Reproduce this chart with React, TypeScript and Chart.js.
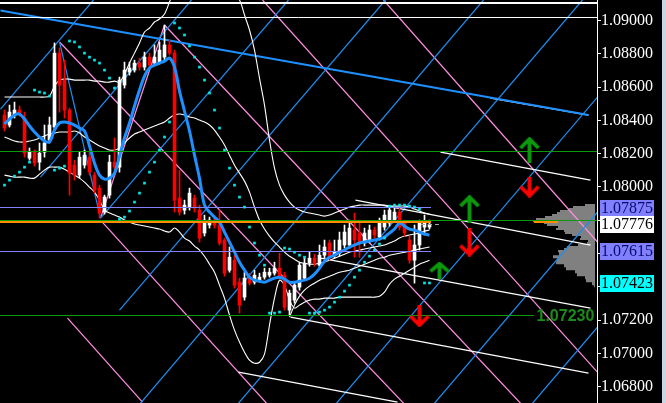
import React, { useEffect, useRef } from 'react';
import { Chart, registerables } from 'chart.js';

Chart.register(...registerables);

// ---------- candle data ----------
const openP = [
  1.08432, 1.08372, 1.08432, 1.08462, 1.08414, 1.08173, 1.08209, 1.08149, 1.08209, 1.08282,
  1.08360, 1.08804, 1.08642, 1.08462, 1.08131, 1.08071, 1.08131, 1.08179, 1.08071, 1.07993,
  1.07849, 1.07951, 1.08149, 1.08119, 1.08612, 1.08690, 1.08702, 1.08744, 1.08720, 1.08780,
  1.08744, 1.08750, 1.08780, 1.08853, 1.08804, 1.07933, 1.07861, 1.07879, 1.07933, 1.07861,
  1.07723, 1.07771, 1.07801, 1.07771, 1.07681, 1.07500, 1.07560, 1.07428, 1.07338, 1.07452,
  1.07428, 1.07440, 1.07458, 1.07470, 1.07482, 1.07512, 1.07470, 1.07260, 1.07320, 1.07398,
  1.07452, 1.07542, 1.07572, 1.07530, 1.07590, 1.07663, 1.07590, 1.07602, 1.07651, 1.07651,
  1.07741, 1.07723, 1.07663, 1.07681, 1.07741, 1.07699, 1.07759, 1.07783, 1.07801, 1.07849,
  1.07789, 1.07681, 1.07560, 1.07651, 1.07759, 1.07759,
];
const highP = [
  1.08462, 1.08492, 1.08510, 1.08486, 1.08450, 1.08234, 1.08222, 1.08264, 1.08372, 1.08420,
  1.08865, 1.08835, 1.08762, 1.08474, 1.08161, 1.08209, 1.08222, 1.08209, 1.08089, 1.08011,
  1.07951, 1.08191, 1.08294, 1.08660, 1.08750, 1.08750, 1.08762, 1.08774, 1.08810, 1.08804,
  1.08853, 1.08871, 1.08973, 1.08883, 1.08822, 1.08101, 1.07921, 1.07993, 1.07951, 1.07891,
  1.07831, 1.07819, 1.07819, 1.07861, 1.07693, 1.07639, 1.07590, 1.07452, 1.07488, 1.07482,
  1.07500, 1.07482, 1.07512, 1.07512, 1.07548, 1.07602, 1.07488, 1.07380, 1.07428, 1.07548,
  1.07572, 1.07608, 1.07596, 1.07651, 1.07681, 1.07681, 1.07681, 1.07729, 1.07771, 1.07801,
  1.07843, 1.07801, 1.07753, 1.07771, 1.07759, 1.07813, 1.07861, 1.07879, 1.07873, 1.07873,
  1.07801, 1.07705, 1.07771, 1.07801, 1.07831, 1.07801,
];
const lowP = [
  1.08336, 1.08360, 1.08414, 1.08426, 1.08179, 1.08161, 1.08125, 1.08101, 1.08179, 1.08264,
  1.08342, 1.08450, 1.08414, 1.07951, 1.08041, 1.08053, 1.08113, 1.08071, 1.07963, 1.07813,
  1.07837, 1.07933, 1.08101, 1.08089, 1.08594, 1.08672, 1.08690, 1.08702, 1.08702, 1.08720,
  1.08732, 1.08738, 1.08762, 1.08792, 1.07849, 1.07831, 1.07837, 1.07861, 1.07849, 1.07669,
  1.07705, 1.07753, 1.07753, 1.07651, 1.07464, 1.07488, 1.07392, 1.07242, 1.07320, 1.07410,
  1.07416, 1.07428, 1.07446, 1.07458, 1.07470, 1.07446, 1.07260, 1.07230, 1.07302, 1.07380,
  1.07440, 1.07524, 1.07524, 1.07512, 1.07572, 1.07560, 1.07572, 1.07584, 1.07633, 1.07633,
  1.07578, 1.07578, 1.07645, 1.07663, 1.07693, 1.07681, 1.07741, 1.07765, 1.07789, 1.07741,
  1.07705, 1.07542, 1.07422, 1.07621, 1.07711, 1.07747,
];
const closeP = [
  1.08354, 1.08450, 1.08462, 1.08438, 1.08203, 1.08209, 1.08143, 1.08203, 1.08264, 1.08372,
  1.08804, 1.08612, 1.08462, 1.08083, 1.08071, 1.08179, 1.08191, 1.08089, 1.07981, 1.07843,
  1.07939, 1.08149, 1.08119, 1.08642, 1.08702, 1.08714, 1.08744, 1.08720, 1.08780, 1.08732,
  1.08780, 1.08822, 1.08853, 1.08804, 1.07921, 1.07849, 1.07891, 1.07963, 1.07873, 1.07693,
  1.07801, 1.07801, 1.07771, 1.07663, 1.07482, 1.07578, 1.07410, 1.07290, 1.07452, 1.07422,
  1.07470, 1.07458, 1.07488, 1.07488, 1.07512, 1.07458, 1.07278, 1.07362, 1.07410, 1.07530,
  1.07542, 1.07572, 1.07542, 1.07590, 1.07639, 1.07578, 1.07608, 1.07681, 1.07729, 1.07753,
  1.07681, 1.07663, 1.07723, 1.07741, 1.07711, 1.07783, 1.07831, 1.07861, 1.07849, 1.07759,
  1.07723, 1.07560, 1.07651, 1.07783, 1.07789, 1.07776,
];

// ---------- indicators ----------
const maLine = [
  1.08378, 1.08408, 1.08432, 1.08438, 1.08408, 1.08366, 1.08330, 1.08300, 1.08276, 1.08270,
  1.08342, 1.08384, 1.08390, 1.08384, 1.08372, 1.08354, 1.08336, 1.08246, 1.08143, 1.08071,
  1.08047, 1.08053, 1.08083, 1.08185, 1.08294, 1.08384, 1.08486, 1.08582, 1.08666, 1.08714,
  1.08732, 1.08744, 1.08756, 1.08774, 1.08720, 1.08576, 1.08456, 1.08336, 1.08191, 1.08053,
  1.07891, 1.07849, 1.07819, 1.07789, 1.07729, 1.07669, 1.07608, 1.07548, 1.07500, 1.07458,
  1.07440, 1.07434, 1.07428, 1.07440, 1.07452, 1.07458, 1.07446, 1.07428, 1.07428, 1.07434,
  1.07440, 1.07452, 1.07476, 1.07512, 1.07554, 1.07578, 1.07590, 1.07608, 1.07621, 1.07639,
  1.07651, 1.07663, 1.07669, 1.07675, 1.07681, 1.07687, 1.07699, 1.07723, 1.07747, 1.07783,
  1.07765, 1.07747, 1.07741, 1.07729, 1.07717, 1.07711,
];
const sarDots = [
  1.08011, 1.08041, 1.08065, 1.08089, 1.08119, 1.08149, 1.08582, 1.08570, 1.08564, 1.08546,
  1.08101, 1.08113, 1.08125, 1.08877, 1.08871, 1.08841, 1.08804, 1.08780, 1.08762, 1.08744,
  1.08702, 1.08654, 1.08594, 1.07807, 1.07819, 1.07855, 1.07909, 1.07963, 1.08023, 1.08089,
  1.08149, 1.08222, 1.08300, 1.08390, 1.08985, 1.08955, 1.08913, 1.08847, 1.08780, 1.08720,
  1.08642, 1.08564, 1.08462, 1.08354, 1.08222, 1.08113, 1.08011, 1.07939, 1.07879, 1.07759,
  1.07663, 1.07590, 1.07530, 1.07242, 1.07242, 1.07248, 1.07633, 1.07627, 1.07608, 1.07590,
  1.07578, 1.07242, 1.07242, 1.07248, 1.07260, 1.07278, 1.07308, 1.07338, 1.07374, 1.07410,
  1.07458, 1.07500, 1.07548, 1.07584, 1.07621, 1.07657, 1.07693, 1.07885, 1.07891, 1.07891,
  1.07891, 1.07885, 1.07879, 1.07867, 1.07423, 1.07423,
];
const bbUpper = [
  1.08540, 1.08540, 1.08540, 1.08540, 1.08540, 1.08540, 1.08540, 1.08540, 1.08540, 1.08546,
  1.08606, 1.08642, 1.08648, 1.08648, 1.08642, 1.08642, 1.08642, 1.08642, 1.08636, 1.08636,
  1.08630, 1.08630, 1.08636, 1.08630, 1.08678, 1.08744, 1.08804, 1.08865, 1.08931, 1.08955,
  1.08991, 1.09009, 1.09039, 1.09111, 1.09183, 1.09243, 1.09267, 1.09279, 1.09279, 1.09267,
  1.09243, 1.09213, 1.09183, 1.09159, 1.09147, 1.09141, 1.09135, 1.09123, 1.09033, 1.08943,
  1.08822, 1.08654, 1.08492, 1.08282, 1.08113, 1.08011, 1.07951, 1.07909, 1.07879, 1.07861,
  1.07849, 1.07843, 1.07837, 1.07831, 1.07825, 1.07831, 1.07843, 1.07855, 1.07867, 1.07879,
  1.07885, 1.07891, 1.07891, 1.07891, 1.07891, 1.07891, 1.07891, 1.07885, 1.07885, 1.07885,
  1.07885, 1.07879, 1.07867, 1.07855, 1.07843, 1.07837,
];
const bbMiddle = [
  1.08300, 1.08288, 1.08276, 1.08270, 1.08270, 1.08276, 1.08282, 1.08294, 1.08306, 1.08318,
  1.08324, 1.08330, 1.08330, 1.08330, 1.08336, 1.08324, 1.08300, 1.08282, 1.08264, 1.08246,
  1.08234, 1.08222, 1.08222, 1.08234, 1.08264, 1.08294, 1.08318, 1.08330, 1.08342, 1.08354,
  1.08366, 1.08378, 1.08390, 1.08414, 1.08432, 1.08438, 1.08432, 1.08420, 1.08414, 1.08402,
  1.08390, 1.08372, 1.08342, 1.08300, 1.08252, 1.08191, 1.08131, 1.08083, 1.08035, 1.07969,
  1.07879, 1.07801, 1.07747, 1.07705, 1.07669, 1.07639, 1.07608, 1.07584, 1.07566, 1.07548,
  1.07542, 1.07536, 1.07536, 1.07542, 1.07548, 1.07560, 1.07572, 1.07584, 1.07596, 1.07608,
  1.07614, 1.07621, 1.07627, 1.07633, 1.07639, 1.07645, 1.07651, 1.07663, 1.07675, 1.07693,
  1.07705, 1.07711, 1.07717, 1.07723, 1.07735, 1.07741,
];
const bbLower = [
  1.08071, 1.08065, 1.08059, 1.08059, 1.08059, 1.08053, 1.08053, 1.08077, 1.08101, 1.08119,
  1.08119, 1.08119, 1.08107, 1.08089, 1.08071, 1.08053, 1.08029, 1.07999, 1.07969, 1.07921,
  1.07861, 1.07843, 1.07831, 1.07819, 1.07801, 1.07789, 1.07777, 1.07771, 1.07765, 1.07759,
  1.07753, 1.07747, 1.07735, 1.07729, 1.07753, 1.07729, 1.07693, 1.07675, 1.07645, 1.07621,
  1.07584, 1.07536, 1.07488, 1.07410, 1.07332, 1.07230, 1.07140, 1.07068, 1.07007, 1.06959,
  1.06941, 1.06947, 1.06995, 1.07170, 1.07332, 1.07440, 1.07410, 1.07320, 1.07272, 1.07290,
  1.07308, 1.07320, 1.07326, 1.07326, 1.07332, 1.07332, 1.07332, 1.07338, 1.07338, 1.07338,
  1.07338, 1.07338, 1.07338, 1.07338, 1.07338, 1.07344, 1.07368, 1.07416, 1.07446, 1.07464,
  1.07482, 1.07500, 1.07518, 1.07536, 1.07548, 1.07560,
];
const envStart = 57;
const envLower = [
  1.07218, 1.07290, 1.07344, 1.07380, 1.07404, 1.07422, 1.07440, 1.07452, 1.07464, 1.07476,
  1.07488, 1.07494, 1.07500, 1.07512, 1.07524, 1.07536, 1.07548, 1.07560, 1.07572, 1.07578,
  1.07590, 1.07596, 1.07602, 1.07608, 1.07614, 1.07621, 1.07627, 1.07633, 1.07639,
];

// ---------- drawn objects: [x0, price0, x1, price1] in bar-index units ----------
const blueRays = [
  [-0.8, 1.08468, 17.8, 1.09123], [7.2, 1.08059, 37.4, 1.09123], [19.2, 1.07813, 56.8, 1.09123],
  [23.0, 1.07260, 76.2, 1.09123], [27.2, 1.06701, 95.8, 1.09123], [46.8, 1.06701, 115.6, 1.09123],
  [66.4, 1.06701, 118.6, 1.08540], [86.0, 1.06701, 118.6, 1.07849], [105.6, 1.06701, 118.6, 1.07158],
  [11.0, 1.08871, 19.2, 1.07813],
];
const pinkRays = [
  [11.0, 1.08871, 79.8, 1.06701], [32.0, 1.08973, 103.2, 1.06701], [51.6, 1.09123, 118.6, 1.06887],
  [75.8, 1.09123, 118.6, 1.07669], [19.2, 1.07801, 52.4, 1.06701], [12.6, 1.07212, 27.6, 1.06707],
  [19.2, 1.07813, 32.0, 1.08973],
];
const whiteRays = [
  [87.2, 1.08209, 117.2, 1.08041], [70.2, 1.07921, 117.2, 1.07651], [63.2, 1.07572, 117.2, 1.07272],
  [57.2, 1.07218, 116.8, 1.06881], [46.8, 1.06887, 78.6, 1.06707], [97.2, 1.08534, 116.8, 1.08432],
];
const trendLine = [-0.8, 1.09060, 116.8, 1.08432];

const topLevels = [1.09105, 1.09021];
const greenLevels = [1.08210, 1.07798];
const purpleLevels = [1.07875, 1.07615];
const orangeLevel = 1.07789;
const shortLevelEnd = 85.2;
const pocSegment = [105.8, 110.6];
const lowLevel = 1.07230;
const lowLevelEnd = 105.8;
const lastPrice = 1.07776;
const lastPriceSpan = [83.2, 87.2];

const axisMarkers = [1.07875, 1.07776, 1.07615, 1.07423];

const upArrows = [[105, 1.08222], [93, 1.07867], [87, 1.07500]];
const downArrows = [[105, 1.07999], [93, 1.07669], [83, 1.07224]];

const profileLevels = [
  1.07897, 1.07885, 1.07873, 1.07861, 1.07849, 1.07837, 1.07825, 1.07813, 1.07801, 1.07789,
  1.07777, 1.07765, 1.07753, 1.07741, 1.07729, 1.07717, 1.07705, 1.07693, 1.07681, 1.07669,
  1.07657, 1.07645, 1.07633, 1.07621, 1.07608, 1.07590, 1.07572, 1.07554, 1.07536, 1.07518,
  1.07500, 1.07482, 1.07464, 1.07446, 1.07428, 1.07410, 1.07398,
];
const profileLeft = [
  117.7, 116.1, 113.7, 112.9, 111.1, 110.5, 109.5, 108.1, 106.3, 105.7,
  107.9, 108.5, 110.7, 110.3, 111.9, 112.1, 113.5, 115.3, 115.1, 116.7,
  116.5, 114.7, 112.5, 111.9, 110.7, 110.9, 109.7, 110.5, 110.3, 111.9,
  112.3, 114.1, 114.5, 116.1, 116.3, 117.5, 117.9,
];
const profileRight = 118.1;

const yTicks = [1.068, 1.07, 1.072, 1.074, 1.076, 1.078, 1.08, 1.082, 1.084, 1.086, 1.088, 1.09];

const X_MIN = -0.9;
const X_MAX = 118.5;
const Y_MIN = 1.06702;
const Y_MAX = 1.091232;

function makeArrow(color: string, up: boolean, w: number, h: number) {
  const c = document.createElement('canvas');
  c.width = w;
  c.height = h;
  const ctx = c.getContext('2d')!;
  ctx.strokeStyle = color;
  ctx.lineWidth = 3.8;
  ctx.lineJoin = 'miter';
  ctx.lineCap = 'butt';
  const mid = w / 2;
  const head = Math.min(9, h * 0.45);
  ctx.beginPath();
  if (up) {
    ctx.moveTo(2, 2 + head);
    ctx.lineTo(mid, 2);
    ctx.lineTo(w - 2, 2 + head);
    ctx.moveTo(mid, 3);
    ctx.lineTo(mid, h);
  } else {
    ctx.moveTo(2, h - 2 - head);
    ctx.lineTo(mid, h - 2);
    ctx.lineTo(w - 2, h - 2 - head);
    ctx.moveTo(mid, h - 3);
    ctx.lineTo(mid, 0);
  }
  ctx.stroke();
  return c;
}

export default function App() {
  const ref = useRef<HTMLCanvasElement>(null);

  useEffect(() => {
    document.body.style.margin = '0';
    document.body.style.background = '#000';
    const canvas = ref.current!;

    const idx = openP.map((_, i) => i);
    const colors = idx.map((i) => (closeP[i] >= openP[i] ? '#ffffff' : '#ff0000'));

    const seg = (r: number[], color: string, width: number, order: number) => ({
      type: 'line',
      data: [{ x: r[0], y: r[1] }, { x: r[2], y: r[3] }],
      borderColor: color,
      borderWidth: width,
      pointRadius: 0,
      tension: 0,
      order,
    });
    const series = (label: string, arr: (number | null)[], color: string, width: number, order: number, tension = 0.3) => ({
      type: 'line',
      label,
      data: arr.map((v, i) => ({ x: i, y: v })),
      borderColor: color,
      borderWidth: width,
      pointRadius: 0,
      tension,
      spanGaps: false,
      order,
    });

    const GREEN = '#0c9a0c';
    const PURPLE = '#8282ff';
    const ORANGE = '#ff8c00';
    const PINK = '#ff8ee0';
    const BLUE_RAY = '#1e8cf0';

    // horizontal levels: [price, x0, x1, colour, width, dash]
    const levels: any[] = [
      [topLevels[0], X_MIN, X_MAX, '#ffffff', 2, null],
      [topLevels[1], X_MIN, X_MAX, '#ffffff', 1, null],
      [purpleLevels[0], X_MIN, shortLevelEnd, PURPLE, 1, null],
      [purpleLevels[1], X_MIN, shortLevelEnd, PURPLE, 1, null],
      [orangeLevel, X_MIN, shortLevelEnd, ORANGE, 2, null],
      [orangeLevel, pocSegment[0], pocSegment[1], ORANGE, 2, null],
      [greenLevels[0], X_MIN, X_MAX, GREEN, 1, null],
      [greenLevels[1], X_MIN, X_MAX, GREEN, 1, null],
      [lowLevel, X_MIN, lowLevelEnd, GREEN, 1, null],
      [lastPrice, lastPriceSpan[0], lastPriceSpan[1], '#a8a8a8', 1, [4, 3]],
    ];

    const profileData = [
      { x: profileRight, y: profileLevels[0] },
      ...profileLeft.map((x, i) => ({ x, y: profileLevels[i] })),
      { x: profileRight, y: profileLevels[profileLevels.length - 1] },
    ];

    const envData: (number | null)[] = idx.map((i) =>
      i >= envStart ? envLower[i - envStart] : null
    );

    const upImgs = [
      makeArrow(GREEN, true, 22, 26),
      makeArrow(GREEN, true, 22, 28),
      makeArrow(GREEN, true, 22, 17),
    ];
    const downImgs = [
      makeArrow('#ff0000', false, 22, 21),
      makeArrow('#ff0000', false, 22, 29),
      makeArrow('#ff0000', false, 22, 22),
    ];

    const datasets: any[] = [
      {
        type: 'line',
        label: 'profile',
        data: profileData,
        borderWidth: 0,
        borderColor: 'rgba(0,0,0,0)',
        backgroundColor: '#808080',
        fill: 'shape',
        stepped: 'before',
        pointRadius: 0,
        order: 100,
      },
      ...blueRays.map((r) => seg(r, BLUE_RAY, 1.25, 90)),
      ...pinkRays.map((r) => seg(r, PINK, 1.25, 90)),
      ...whiteRays.map((r) => seg(r, '#ffffff', 1.2, 75)),
      seg(trendLine, '#1e90ff', 2, 74),
      series('bbU', bbUpper, '#ffffff', 1.1, 70),
      series('bbM', bbMiddle, '#ffffff', 1.1, 70),
      series('bbL', bbLower, '#ffffff', 1.1, 70),
      series('env', envData, '#ffffff', 1.1, 70),
      {
        type: 'bar',
        label: 'wicks',
        data: idx.map((i) => ({ x: i, y: [lowP[i], highP[i]] })),
        backgroundColor: colors,
        borderWidth: 0,
        barThickness: 1,
        grouped: false,
        order: 60,
      },
      {
        type: 'bar',
        label: 'bodies',
        data: idx.map((i) => ({ x: i, y: [openP[i], closeP[i]] })),
        backgroundColor: colors,
        borderWidth: 0,
        barThickness: 3,
        minBarLength: 1,
        grouped: false,
        order: 55,
      },
      series('ma', maLine, '#1e90ff', 3, 40, 0.35),
      {
        type: 'line',
        label: 'sar',
        data: sarDots.map((v, i) => ({ x: i, y: v })),
        showLine: false,
        pointStyle: 'rect',
        pointRadius: 1.9,
        pointBackgroundColor: '#00e6e6',
        pointBorderWidth: 0,
        order: 30,
      },
      {
        type: 'line',
        label: 'up',
        data: upArrows.map((a) => ({ x: a[0], y: a[1] })),
        showLine: false,
        pointStyle: upImgs,
        pointRadius: 8,
        order: 10,
      },
      {
        type: 'line',
        label: 'down',
        data: downArrows.map((a) => ({ x: a[0], y: a[1] })),
        showLine: false,
        pointStyle: downImgs,
        pointRadius: 8,
        order: 10,
      },
    ];

    const markerBg = ['#8080ff', '#ffffff', '#8080ff', '#00ffff'];
    const markerFg = ['#0a0a6e', '#000000', '#0a0a6e', '#000000'];

    const overlay = {
      id: 'overlay',
      beforeDraw(chart: any) {
        const c = chart.ctx;
        c.save();
        c.fillStyle = '#000000';
        c.fillRect(0, 0, chart.width, chart.height);
        c.restore();
      },
      afterDatasetDraw(chart: any, args: any) {
        const ds = chart.data.datasets[args.index];
        if (ds.label !== 'ma') return;
        const c = chart.ctx;
        const ys = chart.scales.y;
        const xs = chart.scales.x;
        const area = chart.chartArea;
        c.save();
        c.beginPath();
        c.rect(area.left, area.top, area.right - area.left, area.bottom - area.top);
        c.clip();
        levels.forEach(([v, x0, x1, col, w, dash]) => {
          const py = ys.getPixelForValue(v);
          const y = w % 2 === 1 ? Math.round(py - 0.5) + 0.5 : Math.round(py);
          const a = Math.round(xs.getPixelForValue(x0));
          const b = Math.round(xs.getPixelForValue(x1));
          c.strokeStyle = col;
          c.lineWidth = w;
          c.setLineDash(dash || []);
          c.beginPath();
          c.moveTo(a, y);
          c.lineTo(b, y);
          c.stroke();
        });
        c.restore();
      },
      afterDraw(chart: any) {
        const c = chart.ctx;
        const ys = chart.scales.y;
        const xs = chart.scales.x;
        c.save();
        c.font = '16px "Liberation Serif", "Times New Roman", serif';
        c.textBaseline = 'middle';
        c.textAlign = 'left';
        axisMarkers.forEach((v, k) => {
          const y = Math.round(ys.getPixelForValue(v));
          c.fillStyle = markerBg[k];
          c.fillRect(ys.left + 3, y - 8, 54, 17);
          c.fillStyle = markerFg[k];
          c.fillText(v.toFixed(5), ys.left + 4, y + 1);
        });
        c.font = 'bold 16px "Liberation Sans", Arial, sans-serif';
        c.fillStyle = '#1a8c1a';
        c.fillText(lowLevel.toFixed(5), xs.getPixelForValue(lowLevelEnd) + 3, ys.getPixelForValue(lowLevel) + 1);
        c.restore();
      },
    };

    const chart = new Chart(canvas, {
      type: 'bar',
      data: { datasets },
      options: {
        animation: false,
        responsive: false,
        maintainAspectRatio: false,
        devicePixelRatio: 1,
        events: [],
        layout: { padding: 0, autoPadding: false },
        plugins: { legend: { display: false }, tooltip: { enabled: false } },
        scales: {
          x: {
            type: 'linear',
            min: X_MIN,
            max: X_MAX,
            offset: false,
            display: false,
            grid: { display: false },
          },
          y: {
            type: 'linear',
            position: 'right',
            min: Y_MIN,
            max: Y_MAX,
            beginAtZero: false,
            afterBuildTicks: (s: any) => {
              s.ticks = yTicks.map((v) => ({ value: v }));
            },
            afterFit: (s: any) => {
              s.width = 65;
              s.paddingTop = 0;
              s.paddingBottom = 0;
            },
            grid: { display: true, drawOnChartArea: false, drawTicks: true, tickLength: 4, color: '#ffffff' },
            border: { display: true, color: '#ffffff', width: 1 },
            ticks: {
              color: '#ffffff',
              padding: 0,
              font: { family: '"Liberation Serif", "Times New Roman", serif', size: 16 },
              callback: (v: any) => Number(v).toFixed(5),
            },
          },
        },
      } as any,
      plugins: [overlay],
    } as any);

    return () => chart.destroy();
  }, []);

  return (
    <div style={{ width: 666, height: 403, display: 'flex', background: '#000', overflow: 'hidden' }}>
      <canvas ref={ref} width={662} height={403} style={{ width: 662, height: 403, display: 'block' }} />
      <div style={{ width: 4, height: 403, background: '#c9d6e4' }} />
    </div>
  );
}
